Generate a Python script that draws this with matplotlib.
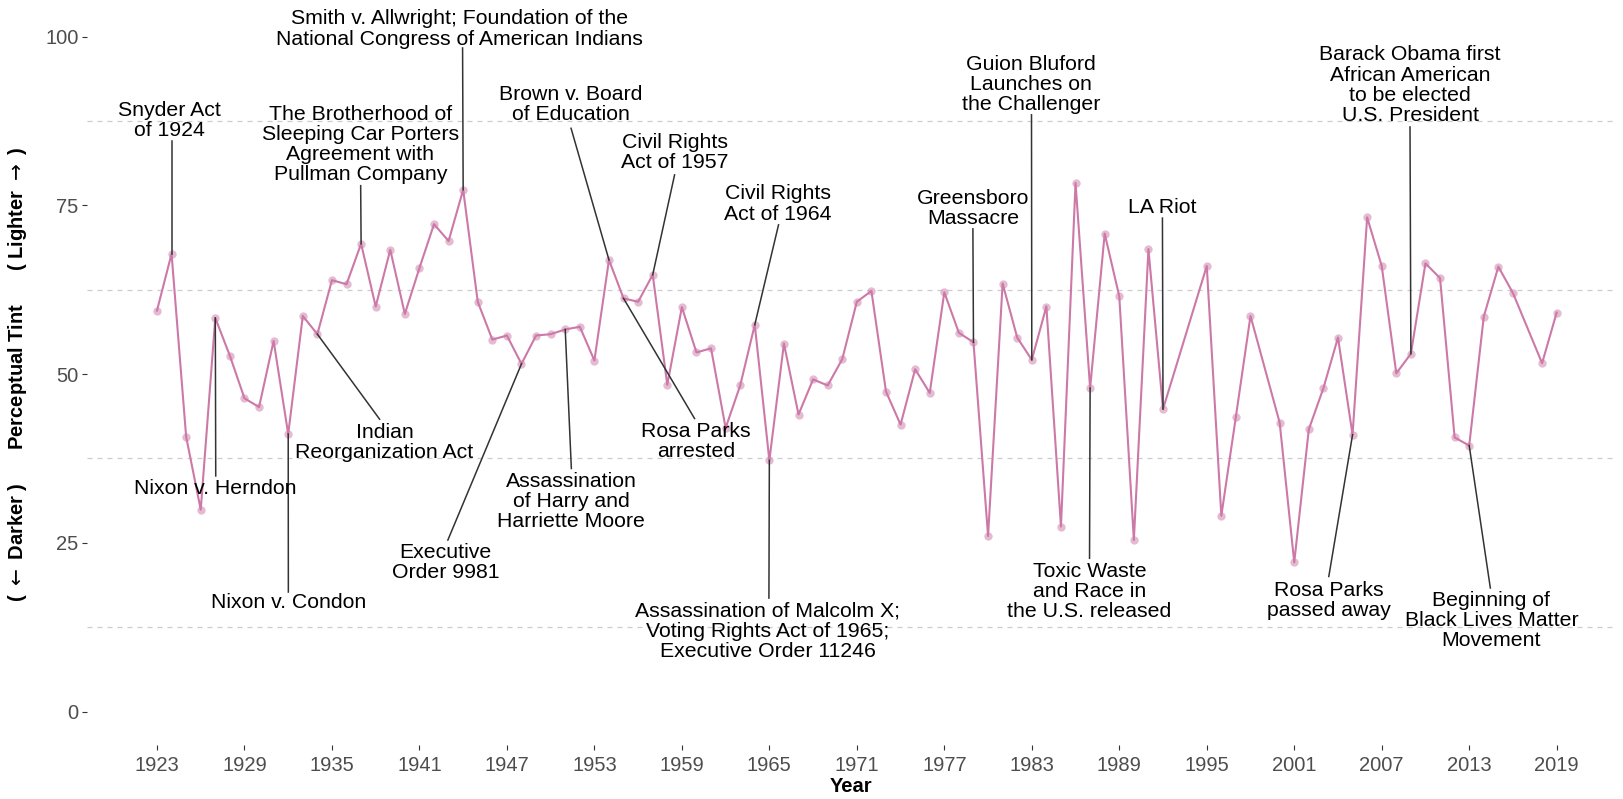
import numpy as np
import matplotlib
matplotlib.use("Agg")
import matplotlib.pyplot as plt

plt.rcParams['font.family'] = ['Liberation Sans', 'DejaVu Sans']

# Perceptual tint per year
years = [1923, 1924, 1925, 1926, 1927, 1928, 1929, 1930, 1931, 1932,
         1933, 1934, 1935, 1936, 1937, 1938, 1939, 1940, 1941, 1942,
         1943, 1944, 1945, 1946, 1947, 1948, 1949, 1950, 1951, 1952,
         1953, 1954, 1955, 1956, 1957, 1958, 1959, 1960, 1961, 1962,
         1963, 1964, 1965, 1966, 1967, 1968, 1969, 1970, 1971, 1972,
         1973, 1974, 1975, 1976, 1977, 1978, 1979, 1980, 1981, 1982,
         1983, 1984, 1985, 1986, 1987, 1988, 1989, 1990, 1991, 1992,
         1995, 1996, 1997, 1998, 2000, 2001, 2002, 2003, 2004, 2005,
         2006, 2007, 2008, 2009, 2010, 2011, 2012, 2013, 2014, 2015,
         2016, 2018, 2019]
tint = [59.4, 67.8, 40.7, 29.9, 58.3, 52.7, 46.4, 45.1, 54.9, 41.1,
        58.6, 55.9, 63.9, 63.3, 69.3, 60.0, 68.4, 58.9, 65.7, 72.2,
        69.7, 77.3, 60.7, 55.1, 55.7, 51.5, 55.7, 55.9, 56.6, 57.0,
        52.0, 66.9, 61.2, 60.7, 64.7, 48.4, 59.9, 53.2, 53.8, 42.0,
        48.3, 57.3, 37.2, 54.5, 44.0, 49.2, 48.3, 52.2, 60.7, 62.3,
        47.4, 42.5, 50.7, 47.2, 62.1, 56.1, 54.7, 26.0, 63.4, 55.4,
        52.1, 60.0, 27.4, 78.3, 47.9, 70.8, 61.5, 25.4, 68.5, 44.8,
        66.0, 29.0, 43.7, 58.6, 42.8, 22.1, 41.8, 47.9, 55.4, 41.0,
        73.2, 66.0, 50.1, 53.0, 66.4, 64.2, 40.6, 39.4, 58.5, 65.9,
        62.0, 51.6, 59.1]

x_ticks = list(range(1923, 2020, 6))
y_ticks = [0, 25, 50, 75, 100]
grid_levels = [12.5, 37.5, 62.5, 87.5]

# events: (year, label)
events = [
    (1924, "Snyder Act\nof 1924"),
    (1927, "Nixon v. Herndon"),
    (1932, "Nixon v. Condon"),
    (1937, "The Brotherhood of\nSleeping Car Porters\nAgreement with\nPullman Company"),
    (1944, "Smith v. Allwright; Foundation of the\nNational Congress of American Indians"),
    (1934, "Indian\nReorganization Act"),
    (1948, "Executive\nOrder 9981"),
    (1951, "Assassination\nof Harry and\nHarriette Moore"),
    (1954, "Brown v. Board\nof Education"),
    (1957, "Civil Rights\nAct of 1957"),
    (1964, "Civil Rights\nAct of 1964"),
    (1955, "Rosa Parks\narrested"),
    (1965, "Assassination of Malcolm X;\nVoting Rights Act of 1965;\nExecutive Order 11246"),
    (1979, "Greensboro\nMassacre"),
    (1983, "Guion Bluford\nLaunches on\nthe Challenger"),
    (1992, "LA Riot"),
    (1987, "Toxic Waste\nand Race in\nthe U.S. released"),
    (2009, "Barack Obama first\nAfrican American\nto be elected\nU.S. President"),
    (2005, "Rosa Parks\npassed away"),
    (2013, "Beginning of\nBlack Lives Matter\nMovement"),
]
# label placement (label centre, segment start), same order as events
label_pos = [
    (1923.84, 87.6, 1924.00, 84.5),
    (1927.00, 33.1, 1927.03, 34.9),
    (1932.03, 16.1, 1932.01, 17.7),
    (1936.95, 84.0, 1936.97, 77.9),
    (1943.76, 101.1, 1943.96, 98.3),
    (1938.61, 39.9, 1938.27, 43.3),
    (1942.80, 22.1, 1942.95, 25.4),
    (1951.42, 31.1, 1951.42, 36.0),
    (1951.37, 89.9, 1951.40, 86.4),
    (1958.50, 82.8, 1958.50, 79.5),
    (1965.58, 75.2, 1965.63, 72.1),
    (1959.99, 40.0, 1959.87, 43.4),
    (1964.88, 11.9, 1964.97, 16.8),
    (1978.96, 74.5, 1978.96, 71.5),
    (1982.94, 92.9, 1982.98, 88.4),
    (1991.94, 74.6, 1991.96, 73.1),
    (1986.96, 17.8, 1986.96, 22.7),
    (2008.95, 92.8, 2008.94, 86.6),
    (2003.37, 16.4, 2003.37, 20.0),
    (2014.52, 13.5, 2014.45, 18.3),
]

tint_by_year = dict(zip(years, tint))

fig = plt.figure(figsize=(16.23, 7.99), dpi=100)
ax = fig.add_axes([87 / 1623, 1 - 745.25 / 799, (1615 - 87) / 1623, 742.5 / 799])

# dashed guides between the major breaks
for g in grid_levels:
    ax.axhline(g, color="#CCCCCC", lw=0.9, ls=(0, (4, 4)), zorder=0)

ax.plot(years, tint, color="#CC79A7", lw=1.5, zorder=2)
ax.plot(years, tint, "o", color="#CC79A7", alpha=0.5, ms=6, mec="none", zorder=3)

# event labels with leader segments
for (yr, txt), (lx, ly, sx, sy) in zip(events, label_pos):
    ax.plot([sx, yr], [sy, tint_by_year[yr]], color="#333333", lw=1.1, zorder=4)
    ax.text(lx, ly, txt, ha="center", va="center", fontsize=15.3,
            linespacing=1.08, color="black", zorder=5)

ax.set_xlim(1918.2, 2023.0)
ax.set_ylim(-5, 105)
ax.set_xticks(x_ticks)
ax.set_yticks(y_ticks)
for s in ax.spines.values():
    s.set_visible(False)
ax.tick_params(length=3.5, width=0.8, color="#333333", labelcolor="#4D4D4D",
               labelsize=14.5, pad=2.5)
ax.tick_params(axis="x", pad=4)

ax.set_xlabel("Year", fontsize=14.5, fontweight="bold", labelpad=2)
ax.set_ylabel(r"( $\leftarrow$ Darker )      Perceptual Tint      ( Lighter $\rightarrow$ )",
              fontsize=14.5, fontweight="bold", labelpad=12)

fig.savefig("out.png", dpi=100)
